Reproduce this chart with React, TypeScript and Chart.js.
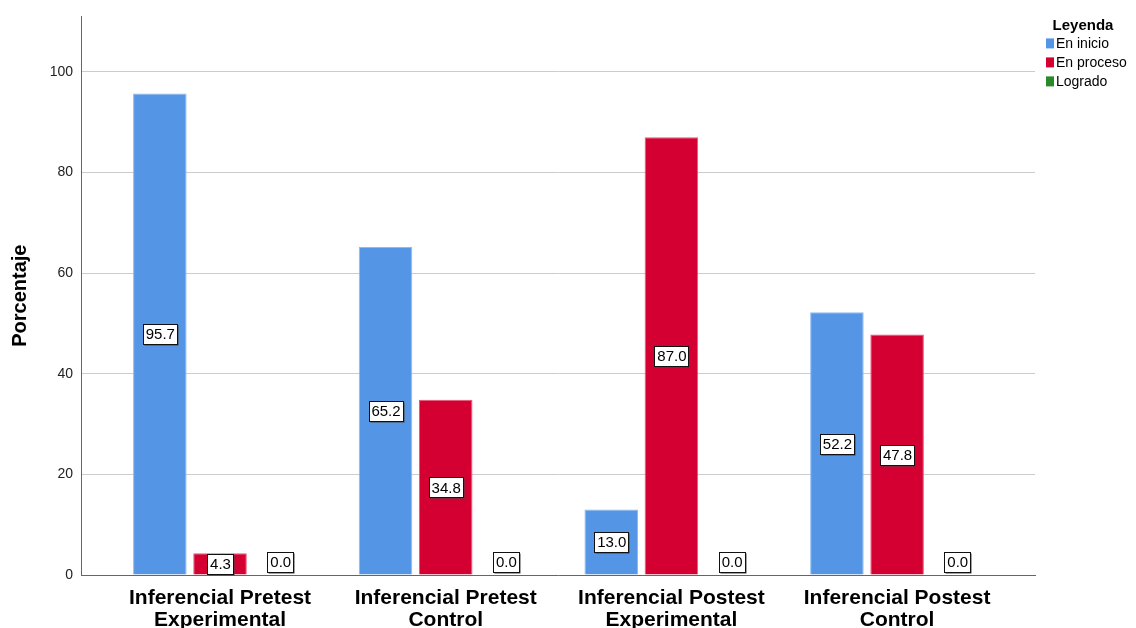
import React, { useEffect, useRef } from "react";
import { Chart, registerables } from "chart.js";

Chart.register(...registerables);

const categories: string[][] = [
  ["Inferencial Pretest", "Experimental"],
  ["Inferencial Pretest", "Control"],
  ["Inferencial Postest", "Experimental"],
  ["Inferencial Postest", "Control"],
];
const seriesNames = ["En inicio", "En proceso", "Logrado"];
const enInicio = [95.7, 65.2, 13.0, 52.2];
const enProceso = [4.3, 34.8, 87.0, 47.8];
const logrado = [0.0, 0.0, 0.0, 0.0];
const yTicks = [0, 20, 40, 60, 80, 100];
const legendTitle = "Leyenda";
const yTitle = "Porcentaje";
const seriesColors = ["#5595e5", "#d50032", "#2a8a2a"];
const seriesBorders = ["#8fbaf0", "#e8567a", "#5fae5f"];

const FONT = "'Liberation Sans', Arial, Helvetica, sans-serif";

const boxLabels = {
  id: "boxLabels",
  afterDatasetsDraw(chart: any) {
    const ctx: CanvasRenderingContext2D = chart.ctx;
    const base = chart.scales.y.getPixelForValue(0);
    ctx.save();
    ctx.font = `15px ${FONT}`;
    ctx.textAlign = "center";
    ctx.textBaseline = "middle";
    chart.data.datasets.forEach((ds: any, di: number) => {
      const meta = chart.getDatasetMeta(di);
      meta.data.forEach((bar: any, i: number) => {
        const v = ds.data[i].y as number;
        const text = v.toFixed(1);
        const w = Math.round(ctx.measureText(text).width + 5);
        const h = 20;
        const cy = v === 0 ? base - h / 2 - 3 : (bar.y + base) / 2;
        const x = Math.round(bar.x - w / 2) + 0.5;
        const y = Math.round(cy - h / 2) + 0.5;
        ctx.fillStyle = "#444";
        ctx.fillRect(x + 1, y + 1, w, h);
        ctx.fillStyle = "#fff";
        ctx.fillRect(x, y, w, h);
        ctx.strokeStyle = "#111";
        ctx.lineWidth = 1;
        ctx.strokeRect(x, y, w, h);
        ctx.fillStyle = "#000";
        ctx.fillText(text, bar.x + 0.5, cy + 1);
      });
    });
    ctx.restore();
  },
};

const sideLegend = {
  id: "sideLegend",
  afterDraw(chart: any) {
    const ctx: CanvasRenderingContext2D = chart.ctx;
    const area = chart.chartArea;
    const left = area.right + 11;
    ctx.save();
    ctx.fillStyle = "#000";
    ctx.textBaseline = "middle";
    ctx.font = `bold 15px ${FONT}`;
    ctx.textAlign = "center";
    ctx.fillText(legendTitle, left + 37, area.top + 9);
    ctx.font = `14px ${FONT}`;
    ctx.textAlign = "left";
    chart.data.datasets.forEach((ds: any, i: number) => {
      const cy = area.top + 27 + i * 19;
      ctx.fillStyle = ds.backgroundColor;
      ctx.fillRect(left, cy - 5, 8, 10);
      ctx.fillStyle = "#000";
      ctx.fillText(ds.label, left + 10, cy + 1);
    });
    ctx.restore();
  },
};

export default function App() {
  const ref = useRef<HTMLCanvasElement>(null);
  useEffect(() => {
    document.body.style.margin = "0";
    Chart.defaults.font.family = FONT;
    const seriesData = [enInicio, enProceso, logrado];
    const chart = new Chart(ref.current as HTMLCanvasElement, {
      type: "bar",
      data: {
        datasets: seriesData.map((arr, si) => ({
          label: seriesNames[si],
          data: arr.map((v, i) => ({ x: i, y: v })),
          backgroundColor: seriesColors[si],
          borderColor: seriesBorders[si],
          borderWidth: 1,
        })),
      },
      options: {
        animation: false,
        responsive: true,
        maintainAspectRatio: false,
        layout: { padding: { top: 15, left: 0, right: 101, bottom: 0 } },
        datasets: { bar: { categoryPercentage: 0.8, barPercentage: 0.89 } } as any,
        scales: {
          x: {
            type: "linear",
            offset: false,
            min: -0.616,
            max: 3.611,
            grid: { display: false, offset: false },
            border: { display: true, color: "#666", width: 1 },
            ticks: {
              stepSize: 1,
              includeBounds: false,
              autoSkip: false,
              maxRotation: 0,
              padding: 4,
              color: "#000",
              font: { size: 21, weight: "bold", lineHeight: 1.04 },
              callback: (v: any) => categories[Math.round(Number(v))] ?? "",
            },
            afterFit: (s: any) => {
              s.height = 53;
            },
          } as any,
          y: {
            min: 0,
            max: 111,
            afterBuildTicks: (s: any) => {
              s.ticks = yTicks.map((v) => ({ value: v }));
            },
            grid: { color: "#cccccc", drawTicks: false },
            border: { display: true, color: "#666", width: 1 },
            ticks: { padding: 8, color: "#222", font: { size: 14 } },
            title: {
              display: true,
              text: yTitle,
              color: "#000",
              font: { size: 20, weight: "bold" },
              padding: { top: 8, bottom: 0 },
            },
            afterFit: (s: any) => {
              s.width = 81;
            },
          } as any,
        },
        plugins: {
          legend: { display: false },
          tooltip: { enabled: false },
        },
      },
      plugins: [boxLabels, sideLegend],
    });
    return () => chart.destroy();
  }, []);
  return (
    <div style={{ width: 1136, height: 628, position: "relative", background: "#fff" }}>
      <canvas ref={ref} />
    </div>
  );
}
